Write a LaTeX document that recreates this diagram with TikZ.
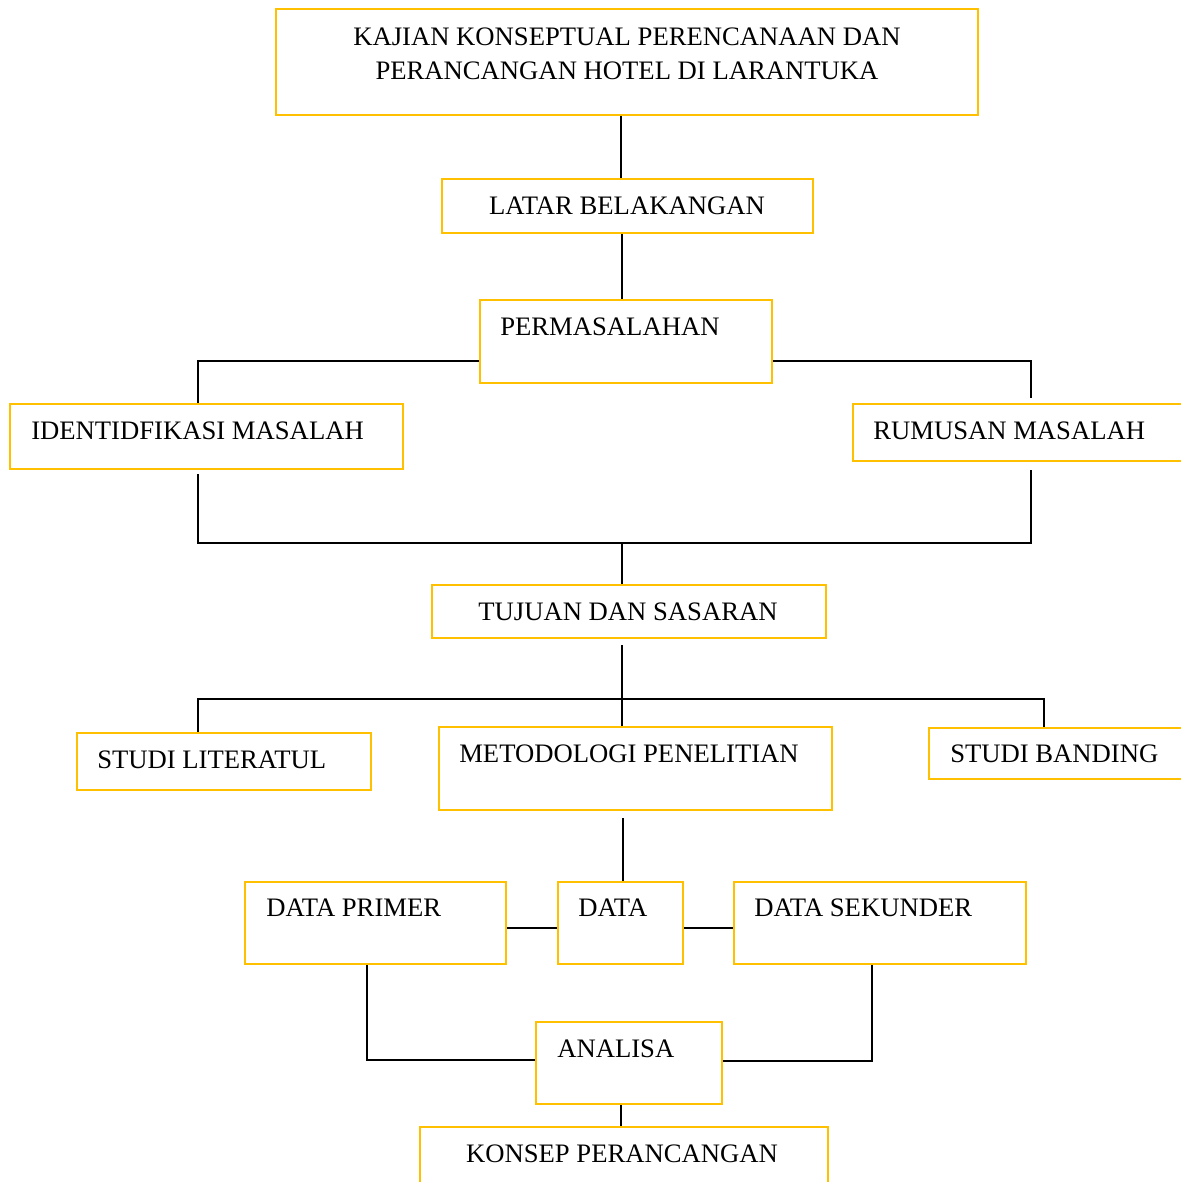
\documentclass[tikz,border=0pt]{standalone}
\usepackage{fontspec}
\setmainfont{Liberation Serif}
\usetikzlibrary{fit,calc}
\definecolor{boxy}{HTML}{FFC000}
\begin{document}
\begin{tikzpicture}[x=0.75pt,y=-0.75pt,
 box/.style={draw=boxy, line width=1.5pt, inner sep=0pt},
 conn/.style={draw=black, line width=1.4pt},
 lbl/.style={inner sep=0pt, font=\fontsize{20}{24}\selectfont}]
\useasboundingbox (0,0) rectangle (1181,1182);
\clip (0,0) rectangle (1181,1182);
% boxes
\node[box, fit={(276,9) (978,115)}] (kajian) {};
\node[box, fit={(442,179) (813,233)}] (latar) {};
\node[box, fit={(480,300) (772,383)}] (perm) {};
\node[box, fit={(10,404) (403,469)}] (ident) {};
\node[box, fit={(853,404) (1195,461)}] (rumus) {};
\node[box, fit={(432,585) (826,638)}] (tujuan) {};
\node[box, fit={(77,733) (371,790)}] (stlit) {};
\node[box, fit={(439,727) (832,810)}] (metod) {};
\node[box, fit={(929,728) (1195,779)}] (stband) {};
\node[box, fit={(245,882) (506,964)}] (dprim) {};
\node[box, fit={(558,882) (683,964)}] (data) {};
\node[box, fit={(734,882) (1026,964)}] (dsek) {};
\node[box, fit={(536,1022) (722,1104)}] (anal) {};
\node[box, fit={(420,1127) (828,1200)}] (konsep) {};
% texts
\node[lbl, anchor=base] (t1) at (627,45) {KAJIAN KONSEPTUAL PERENCANAAN DAN};
\node[lbl, anchor=base] (t2) at (627,79) {PERANCANGAN HOTEL DI LARANTUKA};
\node[lbl, anchor=base] (t3) at (627,214) {LATAR BELAKANGAN};
\node[lbl, anchor=base west] (t4) at (500,335) {PERMASALAHAN};
\node[lbl, anchor=base west] (t5) at (31,439) {IDENTIDFIKASI MASALAH};
\node[lbl, anchor=base west] (t6) at (873,439) {RUMUSAN MASALAH};
\node[lbl, anchor=base] (t7) at (628,620) {TUJUAN DAN SASARAN};
\node[lbl, anchor=base west] (t8) at (97,768) {STUDI LITERATUL};
\node[lbl, anchor=base west] (t9) at (459,762) {METODOLOGI PENELITIAN};
\node[lbl, anchor=base west] (t10) at (950,762) {STUDI BANDING};
\node[lbl, anchor=base west] (t11) at (266,916) {DATA PRIMER};
\node[lbl, anchor=base west] (t12) at (578,916) {DATA};
\node[lbl, anchor=base west] (t13) at (754,916) {DATA SEKUNDER};
\node[lbl, anchor=base west] (t14) at (557,1057) {ANALISA};
\node[lbl, anchor=base] (t15) at (622,1162) {KONSEP PERANCANGAN};
% junction coordinates
\coordinate (jr) at (1031,398);
\coordinate (jl) at (198,474);
\coordinate (jrb) at (1031,470);
\coordinate (jm) at (622,543);
\coordinate (jt) at (622,645);
\coordinate (jh) at (622,699);
\coordinate (jd) at (623,818);
% connectors
\draw[conn] ($(kajian.south)+(-6,0)$) -- ($(latar.north)+(-6.5,0)$);
\draw[conn] ($(latar.south)+(-5.5,0)$) -- ($(perm.north)+(-4,0)$);
\draw[conn] ($(perm.west)+(0,19.5)$) -| ($(ident.north)+(-8.5,0)$);
\draw[conn] ($(perm.east)+(0,19.5)$) -| (jr);
\draw[conn] (jl) |- (jm) -| (jrb);
\draw[conn] (jm) -- ($(tujuan.north)+(-7,0)$);
\draw[conn] (jt) -- ($(metod.north)+(-13.5,0)$);
\draw[conn] ($(stlit.north)+(-26,0)$) |- (jh) -| ($(stband.north west)+(116,0)$);
\draw[conn] (jd) -- ($(data.north)+(2.5,0)$);
\draw[conn] ($(dprim.east)+(0,5)$) -- ($(data.west)+(0,5)$);
\draw[conn] ($(data.east)+(0,5)$) -- ($(dsek.west)+(0,5)$);
\draw[conn] ($(dprim.south)+(-8.5,0)$) |- ($(anal.west)+(0,-3)$);
\draw[conn] ($(dsek.south)+(-8,0)$) |- ($(anal.east)+(0,-2)$);
\draw[conn] ($(anal.south)+(-8,0)$) -- ($(konsep.north)+(-3,0)$);
\end{tikzpicture}
\end{document}
